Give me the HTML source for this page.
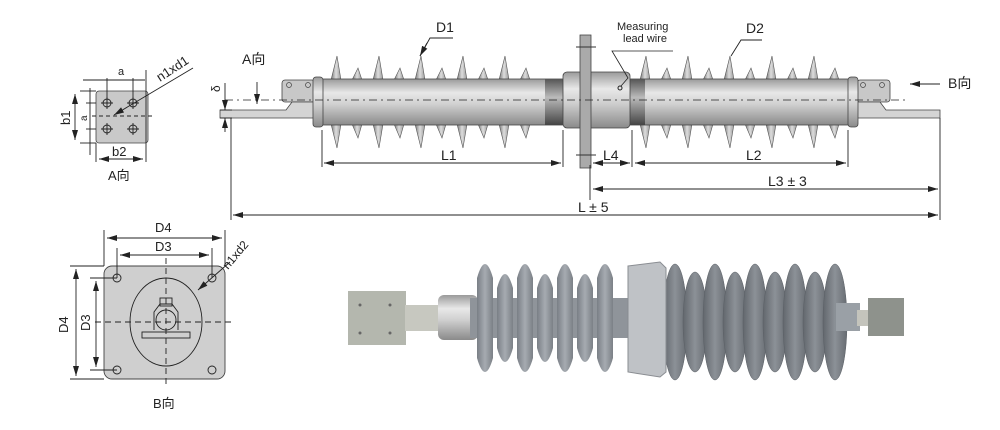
<!DOCTYPE html>
<html><head><meta charset="utf-8"><style>
html,body{margin:0;padding:0;background:#fff;width:1000px;height:430px;overflow:hidden}
text{font-family:"Liberation Sans","Noto Sans CJK SC",sans-serif;fill:#222}
</style></head><body>
<svg id="s" width="1000" height="430" viewBox="0 0 1000 430" xmlns="http://www.w3.org/2000/svg">
<defs>
<linearGradient id="tube" x1="0" y1="0" x2="0" y2="1">
<stop offset="0" stop-color="#9a9a9a"/><stop offset="0.3" stop-color="#e8e8e8"/><stop offset="0.55" stop-color="#d0d0d0"/><stop offset="1" stop-color="#8a8a8a"/></linearGradient>
<linearGradient id="shed" x1="0" y1="0" x2="1" y2="0">
<stop offset="0" stop-color="#777"/><stop offset="0.5" stop-color="#ddd"/><stop offset="1" stop-color="#999"/></linearGradient>
<linearGradient id="dark" x1="0" y1="0" x2="0" y2="1">
<stop offset="0" stop-color="#555"/><stop offset="0.4" stop-color="#bbb"/><stop offset="1" stop-color="#444"/></linearGradient>
<linearGradient id="ph" x1="0" y1="0" x2="1" y2="0">
<stop offset="0" stop-color="#7a7f86"/><stop offset="0.5" stop-color="#a6abb1"/><stop offset="1" stop-color="#7b8086"/></linearGradient>
<linearGradient id="ph2" x1="0" y1="0" x2="1" y2="0">
<stop offset="0" stop-color="#62676d"/><stop offset="0.5" stop-color="#8c9197"/><stop offset="1" stop-color="#676c72"/></linearGradient>
<marker id="ar" markerWidth="10" markerHeight="6" refX="10" refY="3" orient="auto-start-reverse" markerUnits="userSpaceOnUse"><path d="M0,0 L10,3 L0,6z" fill="#222"/></marker>
</defs>
<g id="sheds"></g>
<rect x="282" y="80" width="33" height="22" rx="3" fill="#c8c8c8" stroke="#444" stroke-width="0.8"/>
<circle cx="289" cy="85" r="2.5" fill="none" stroke="#444" stroke-width="0.7"/><circle cx="308" cy="85" r="2.5" fill="none" stroke="#444" stroke-width="0.7"/>
<path d="M220,110 L286,110 L292,102 L315,102 L315,118 L220,118 Z" fill="#d4d4d4" stroke="#444" stroke-width="0.8"/>
<rect x="857" y="80" width="33" height="22" rx="3" fill="#c8c8c8" stroke="#444" stroke-width="0.8"/>
<circle cx="863" cy="85" r="2.5" fill="none" stroke="#444" stroke-width="0.7"/><circle cx="882" cy="85" r="2.5" fill="none" stroke="#444" stroke-width="0.7"/>
<path d="M857,102 L880,102 L886,110 L940,110 L940,118 L857,118 Z" fill="#d4d4d4" stroke="#444" stroke-width="0.8"/>
<rect x="320" y="79" width="530" height="46" fill="url(#tube)" stroke="#444" stroke-width="0.8"/>
<rect x="545" y="79" width="18" height="46" fill="url(#dark)"/>
<rect x="630" y="79" width="15" height="46" fill="url(#dark)"/>
<rect x="313" y="77" width="10" height="50" rx="3" fill="url(#tube)" stroke="#444" stroke-width="0.8"/>
<rect x="848" y="77" width="10" height="50" rx="3" fill="url(#tube)" stroke="#444" stroke-width="0.8"/>
<rect x="563" y="72" width="67" height="56" rx="4" fill="url(#tube)" stroke="#444" stroke-width="0.8"/>
<rect x="580" y="35" width="11" height="133" fill="#aaa" stroke="#444" stroke-width="0.8"/>
<line x1="576" y1="47" x2="596" y2="47" stroke="#333"/><line x1="576" y1="155" x2="596" y2="155" stroke="#333"/>
<circle cx="620" cy="88" r="2" fill="none" stroke="#222"/>
<path d="M621,86 L628,78 L612,51 L673,51" fill="none" stroke="#222" stroke-width="0.8"/>
<line x1="225" y1="100" x2="905" y2="100" stroke="#222" stroke-width="0.8" stroke-dasharray="8,4,2,4"/>
<g stroke="#222" stroke-width="0.9" fill="none">
<line x1="231" y1="118" x2="231" y2="220"/><line x1="940" y1="118" x2="940" y2="220"/>
<line x1="322" y1="130" x2="322" y2="167"/><line x1="563" y1="130" x2="563" y2="167"/>
<line x1="590" y1="165" x2="590" y2="200"/><line x1="632" y1="130" x2="632" y2="167"/>
<line x1="848" y1="130" x2="848" y2="167"/>
<line x1="324" y1="163" x2="561" y2="163" marker-start="url(#ar)" marker-end="url(#ar)"/>
<line x1="593" y1="163" x2="630" y2="163" marker-start="url(#ar)" marker-end="url(#ar)"/>
<line x1="635" y1="163" x2="846" y2="163" marker-start="url(#ar)" marker-end="url(#ar)"/>
<line x1="593" y1="189" x2="938" y2="189" marker-start="url(#ar)" marker-end="url(#ar)"/>
<line x1="233" y1="215" x2="938" y2="215" marker-start="url(#ar)" marker-end="url(#ar)"/>
<line x1="257" y1="82" x2="257" y2="104" marker-end="url(#ar)"/>
<line x1="940" y1="84" x2="910" y2="84" marker-end="url(#ar)"/>
<line x1="225" y1="83" x2="225" y2="110" marker-end="url(#ar)"/>
<line x1="225" y1="132" x2="225" y2="118" marker-end="url(#ar)"/>
<line x1="220" y1="110" x2="232" y2="110"/><line x1="220" y1="118" x2="232" y2="118"/>
<path d="M420,56 L430,38 L453,38"/><line x1="420" y1="56" x2="427" y2="43" marker-start="url(#ar)"/>
<path d="M731,56 L741,40 L762,40"/>
</g>
<g font-size="14">
<text x="436" y="32">D1</text><text x="746" y="33">D2</text>
<text x="441" y="160">L1</text><text x="603" y="160">L4</text><text x="746" y="160">L2</text>
<text x="768" y="186">L3 ± 3</text><text x="578" y="212">L ± 5</text>
<text x="242" y="64">A向</text><text x="948" y="88">B向</text>
</g>
<text x="617" y="30" font-size="11">Measuring</text><text x="623" y="42" font-size="11">lead wire</text>
<text x="0" y="0" font-size="12" transform="translate(220,92) rotate(-90)">δ</text>
<rect x="96" y="91" width="52" height="52" rx="3" fill="#c9c9c9" stroke="#444" stroke-width="0.8"/>
<g fill="none" stroke="#222" stroke-width="0.9">
<circle cx="107" cy="103" r="4"/><circle cx="133" cy="103" r="4"/><circle cx="107" cy="129" r="4"/><circle cx="133" cy="129" r="4"/>
<path d="M101,103h12M107,97v12M127,103h12M133,97v12M101,129h12M107,123v12M127,129h12M133,123v12"/>
<line x1="92" y1="116" x2="152" y2="116" stroke-dasharray="4,3"/>
<line x1="83" y1="80" x2="145" y2="80"/><line x1="107" y1="78" x2="107" y2="103"/><line x1="133" y1="78" x2="133" y2="103"/>
<line x1="146" y1="70" x2="146" y2="162"/><line x1="96" y1="143" x2="96" y2="162"/>
<line x1="99" y1="159" x2="143" y2="159" marker-start="url(#ar)" marker-end="url(#ar)"/>
<line x1="80" y1="91" x2="96" y2="91"/><line x1="80" y1="143" x2="96" y2="143"/>
<line x1="75" y1="94" x2="75" y2="140" marker-start="url(#ar)" marker-end="url(#ar)"/>
<line x1="90" y1="88" x2="90" y2="155"/><line x1="86" y1="103" x2="96" y2="103"/><line x1="86" y1="129" x2="96" y2="129"/>
<line x1="193" y1="68" x2="114" y2="115" marker-end="url(#ar)"/>
</g>
<g font-size="13"><text x="118" y="75" font-size="11">a</text><text x="112" y="156">b2</text><text x="108" y="180">A向</text>
<text x="0" y="0" transform="translate(70,125) rotate(-90)">b1</text>
<text x="0" y="0" font-size="10" transform="translate(87,121) rotate(-90)">a</text>
<text x="0" y="0" transform="translate(160,82) rotate(-33)">n1xd1</text></g>
<rect x="104" y="266" width="121" height="113" rx="8" fill="#cfcfcf" stroke="#444" stroke-width="0.9"/>
<g fill="none" stroke="#222" stroke-width="0.9">
<ellipse cx="166" cy="322" rx="36" ry="44"/>
<circle cx="117" cy="278" r="4"/><circle cx="212" cy="278" r="4"/><circle cx="117" cy="370" r="4"/><circle cx="212" cy="370" r="4"/>
<circle cx="166" cy="320" r="10"/><path d="M154,330 L154,312 L160,304 L172,304 L178,312 L178,330"/>
<rect x="142" y="332" width="48" height="6"/><rect x="160" y="298" width="12" height="8"/>
<line x1="166" y1="258" x2="166" y2="388" stroke-dasharray="6,4"/><line x1="95" y1="322" x2="232" y2="322" stroke-dasharray="6,4"/>
<line x1="104" y1="230" x2="104" y2="266"/><line x1="225" y1="230" x2="225" y2="266"/>
<line x1="107" y1="238" x2="222" y2="238" marker-start="url(#ar)" marker-end="url(#ar)"/>
<line x1="117" y1="248" x2="117" y2="278"/><line x1="212" y1="248" x2="212" y2="278"/>
<line x1="120" y1="255" x2="209" y2="255" marker-start="url(#ar)" marker-end="url(#ar)"/>
<line x1="70" y1="266" x2="104" y2="266"/><line x1="70" y1="379" x2="104" y2="379"/>
<line x1="76" y1="269" x2="76" y2="376" marker-start="url(#ar)" marker-end="url(#ar)"/>
<line x1="90" y1="278" x2="117" y2="278"/><line x1="90" y1="370" x2="117" y2="370"/>
<line x1="96" y1="281" x2="96" y2="367" marker-start="url(#ar)" marker-end="url(#ar)"/>
<line x1="230" y1="262" x2="198" y2="290" marker-end="url(#ar)"/>
</g>
<g font-size="13"><text x="155" y="232">D4</text><text x="155" y="251">D3</text><text x="153" y="408">B向</text>
<text x="0" y="0" transform="translate(68,333) rotate(-90)">D4</text><text x="0" y="0" transform="translate(90,331) rotate(-90)">D3</text>
<text x="0" y="0" font-size="12" transform="translate(228,270) rotate(-50)">n1xd2</text></g>
<!-- photo -->
<rect x="348" y="291" width="58" height="54" fill="#b4b7ae"/>
<circle cx="360" cy="305" r="1.5" fill="#666"/><circle cx="390" cy="305" r="1.5" fill="#666"/><circle cx="360" cy="333" r="1.5" fill="#666"/><circle cx="390" cy="333" r="1.5" fill="#666"/>
<rect x="405" y="305" width="40" height="26" fill="#c7c8c0"/>
<rect x="438" y="295" width="40" height="45" rx="6" fill="url(#tube)"/>
<rect x="470" y="298" width="160" height="40" fill="#8f949a"/>
<g id="photo"></g>
<path d="M628,266 L660,262 L666,268 L666,372 L660,377 L628,372 Z" fill="#bfc2c6" stroke="#8a8d92"/>
<rect x="836" y="303" width="24" height="28" fill="#9aa0a6"/>
<rect x="857" y="310" width="14" height="16" fill="#c4c4bc"/>
<rect x="868" y="298" width="36" height="38" fill="#8e928c"/>
</svg>
<script>
var ns="http://www.w3.org/2000/svg",g=document.getElementById("sheds"),p=document.getElementById("photo");
function add(par,tag,at){var e=document.createElementNS(ns,tag);for(var k in at)e.setAttribute(k,at[k]);par.appendChild(e);return e;}
function sh(x,big){var t=big?56:68,b=big?148:138;
add(g,"path",{d:"M"+(x-6)+",80 L"+x+","+t+" L"+(x+4)+",80 Z M"+(x-6)+",124 L"+x+","+b+" L"+(x+4)+",124 Z",fill:"url(#shed)",stroke:"#555","stroke-width":"0.6"});
add(g,"line",{x1:x,y1:80,x2:x,y2:124,stroke:"#666","stroke-width":"0.8"});}
var i=0;for(var x=337;x<=540;x+=21,i++)sh(x,i%2==0);
i=0;for(var x=646;x<=840;x+=21,i++)sh(x,i%2==0);
for(var j=0;j<7;j++){var cx=485+j*20,h=j%2?44:54;
add(p,"path",{d:"M"+(cx-8)+","+(318-h+14)+" Q"+cx+","+(318-h-14)+" "+(cx+8)+","+(318-h+14)+" L"+(cx+8)+","+(318+h-14)+" Q"+cx+","+(318+h+14)+" "+(cx-8)+","+(318+h-14)+" Z",fill:"url(#ph)"});}
for(var j=0;j<9;j++){var cx=675+j*20,ry=j%2?50:58;add(p,"ellipse",{cx:cx,cy:322,rx:12,ry:ry,fill:"url(#ph2)",stroke:"#5a5f65","stroke-width":"0.5"});}
</script>
</body></html>
